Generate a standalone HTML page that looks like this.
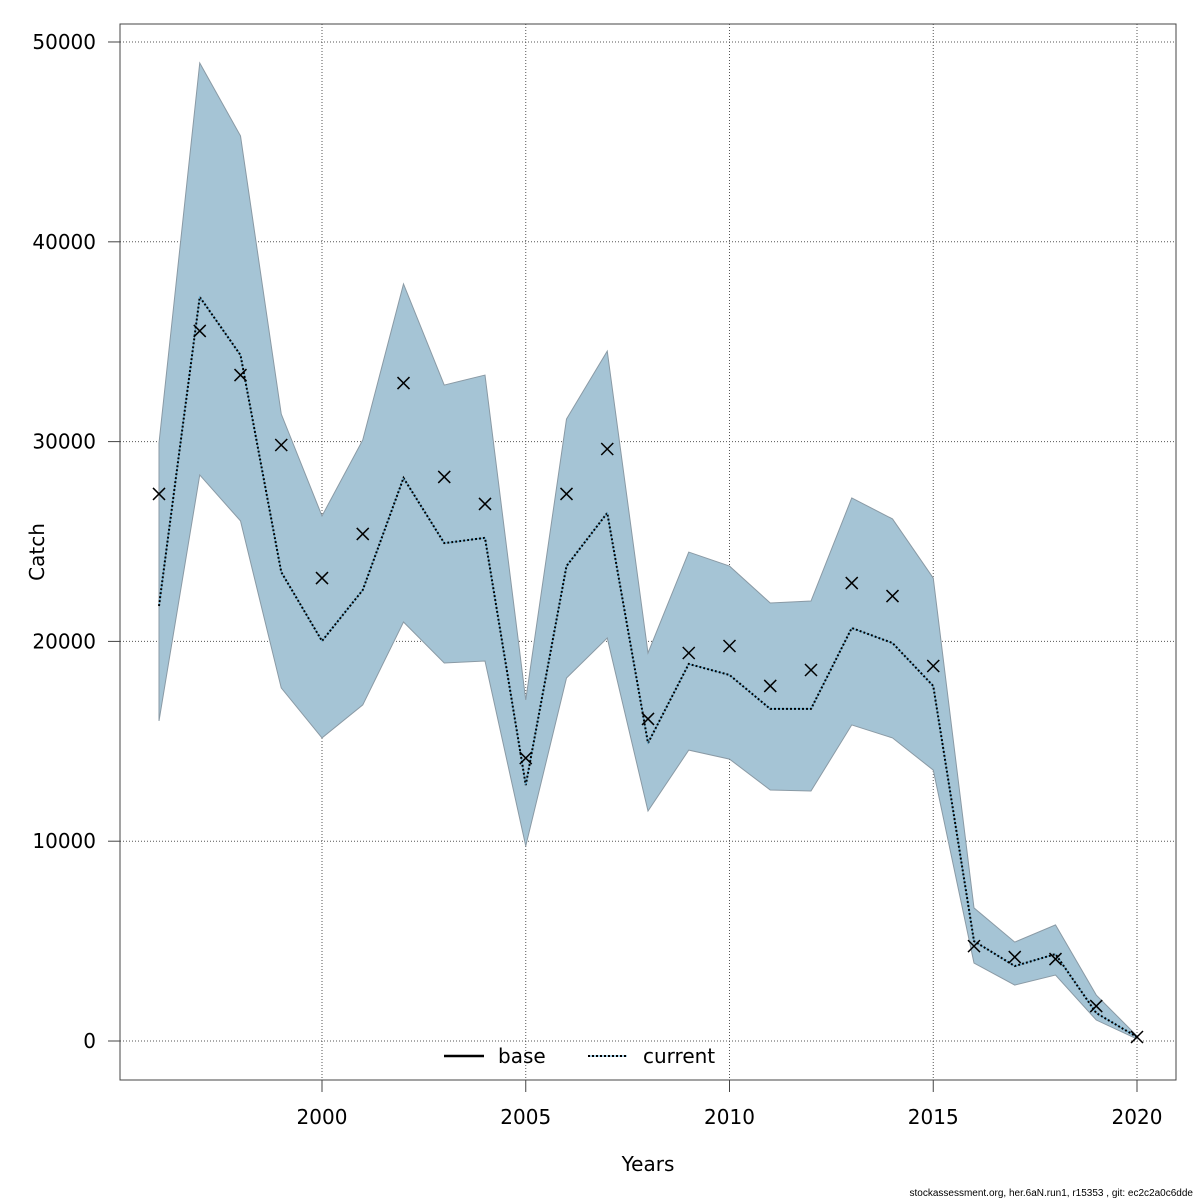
<!DOCTYPE html>
<html><head><meta charset="utf-8"><style>
body{margin:0;background:#fff}
svg{display:block;font-family:"DejaVu Sans","Liberation Sans",sans-serif}
</style></head><body>
<svg id="chart" width="1200" height="1200" xmlns="http://www.w3.org/2000/svg"></svg>
<script>
const years=[1996,1997,1998,1999,2000,2001,2002,2003,2004,2005,2006,2007,2008,2009,2010,2011,2012,2013,2014,2015,2016,2017,2018,2019,2020];
const observed=[27380,35540,33330,29830,23170,25380,32930,28230,26880,14160,27380,29630,16120,19420,19770,17770,18570,22920,22270,18770,4750,4200,4100,1750,200];
const current=[21770,37240,34330,23470,20020,22570,28180,24920,25180,12810,23770,26430,14910,18870,18320,16620,16620,20670,19920,17770,5000,3750,4350,1400,200];
const upper=[29930,48950,45300,31380,26280,30080,37890,32830,33330,17070,31130,34530,19420,24470,23770,21920,22020,27180,26130,23170,6660,4950,5810,2300,250];
const lower=[16020,28330,26030,17670,15170,16820,20970,18920,19020,9760,18170,20170,11510,14560,14110,12560,12510,15820,15170,13560,3900,2800,3300,1050,100];
const xTicks=[2000,2005,2010,2015,2020];
const yTicks=[0,10000,20000,30000,40000,50000];

const NS="http://www.w3.org/2000/svg";
const svg=document.getElementById('chart');
const X=y=>322+(y-2000)*(1137-322)/20;
const Y=v=>1041-v*(1041-42)/50000;
function el(t,a,p){const e=document.createElementNS(NS,t);for(const k in a)e.setAttribute(k,a[k]);(p||svg).appendChild(e);return e;}

xTicks.forEach(t=>{const l=el('line',{x1:X(t),x2:X(t),y1:24,y2:1080,stroke:'#555','stroke-width':1,'stroke-dasharray':'1,2'});

});
yTicks.forEach(t=>{const l=el('line',{x1:120,x2:1176,y1:Y(t),y2:Y(t),stroke:'#555','stroke-width':1,'stroke-dasharray':'1,2'});

});

let pts=years.map((y,i)=>X(y)+','+Y(upper[i])).concat(years.slice().reverse().map((y,j)=>X(y)+','+Y(lower[years.length-1-j])));
const band=el('polygon',{points:pts.join(' '),fill:'#a5c4d5',stroke:'#8a9aa5','stroke-width':1});



const cl=el('polyline',{points:years.map((y,i)=>X(y)+','+Y(current[i])).join(' '),fill:'none',stroke:'#000','stroke-width':2,'stroke-dasharray':'2,2'});


const cl2=el('polyline',{points:years.map((y,i)=>X(y)+','+Y(current[i])).join(' '),fill:'none',stroke:'#5aa8d0','stroke-width':1,'stroke-dasharray':'2,2','stroke-dashoffset':2});



years.forEach((y,i)=>{const cx=X(y),cy=Y(observed[i]),s=6;
const p=el('path',{d:`M${cx-s},${cy-s}L${cx+s},${cy+s}M${cx-s},${cy+s}L${cx+s},${cy-s}`,stroke:'#000','stroke-width':1.5,fill:'none'});

});

const bx=el('rect',{x:120,y:24,width:1056,height:1056,fill:'none',stroke:'#444','stroke-width':1});



xTicks.forEach(t=>{const l=el('line',{x1:X(t),x2:X(t),y1:1080,y2:1092,stroke:'#444'});


const tx=el('text',{x:X(t),y:1124,'text-anchor':'middle','font-size':20});tx.textContent=t;

});
yTicks.forEach(t=>{const l=el('line',{x1:108,x2:120,y1:Y(t),y2:Y(t),stroke:'#444'});


const tx=el('text',{x:96,y:Y(t)+7,'text-anchor':'end','font-size':20});tx.textContent=t;

});
</script>
<div style="position:absolute;left:0;top:0;width:1200px;height:1200px;pointer-events:none">
<svg width="1200" height="1200">
<text x="648" y="1171" text-anchor="middle" font-size="20">Years</text>
<text transform="translate(44,552) rotate(-90)" text-anchor="middle" font-size="20">Catch</text>
<g>
<line x1="444" x2="484" y1="1056" y2="1056" stroke="#000" stroke-width="2.5"/>
<text x="498" y="1063" font-size="20">base</text>
<line x1="588" x2="627" y1="1056" y2="1056" stroke="#000" stroke-width="2" stroke-dasharray="2,2"/>
<line x1="590" x2="627" y1="1056" y2="1056" stroke="#5aa8d0" stroke-width="1" stroke-dasharray="2,2"/>
<text x="643" y="1063" font-size="20">current</text>
</g>
<text x="1193" y="1196" text-anchor="end" font-size="10" style="font-family:'Liberation Sans',sans-serif">stockassessment.org, her.6aN.run1, r15353 , git: ec2c2a0c6dde</text>
</svg></div>
</body></html>
